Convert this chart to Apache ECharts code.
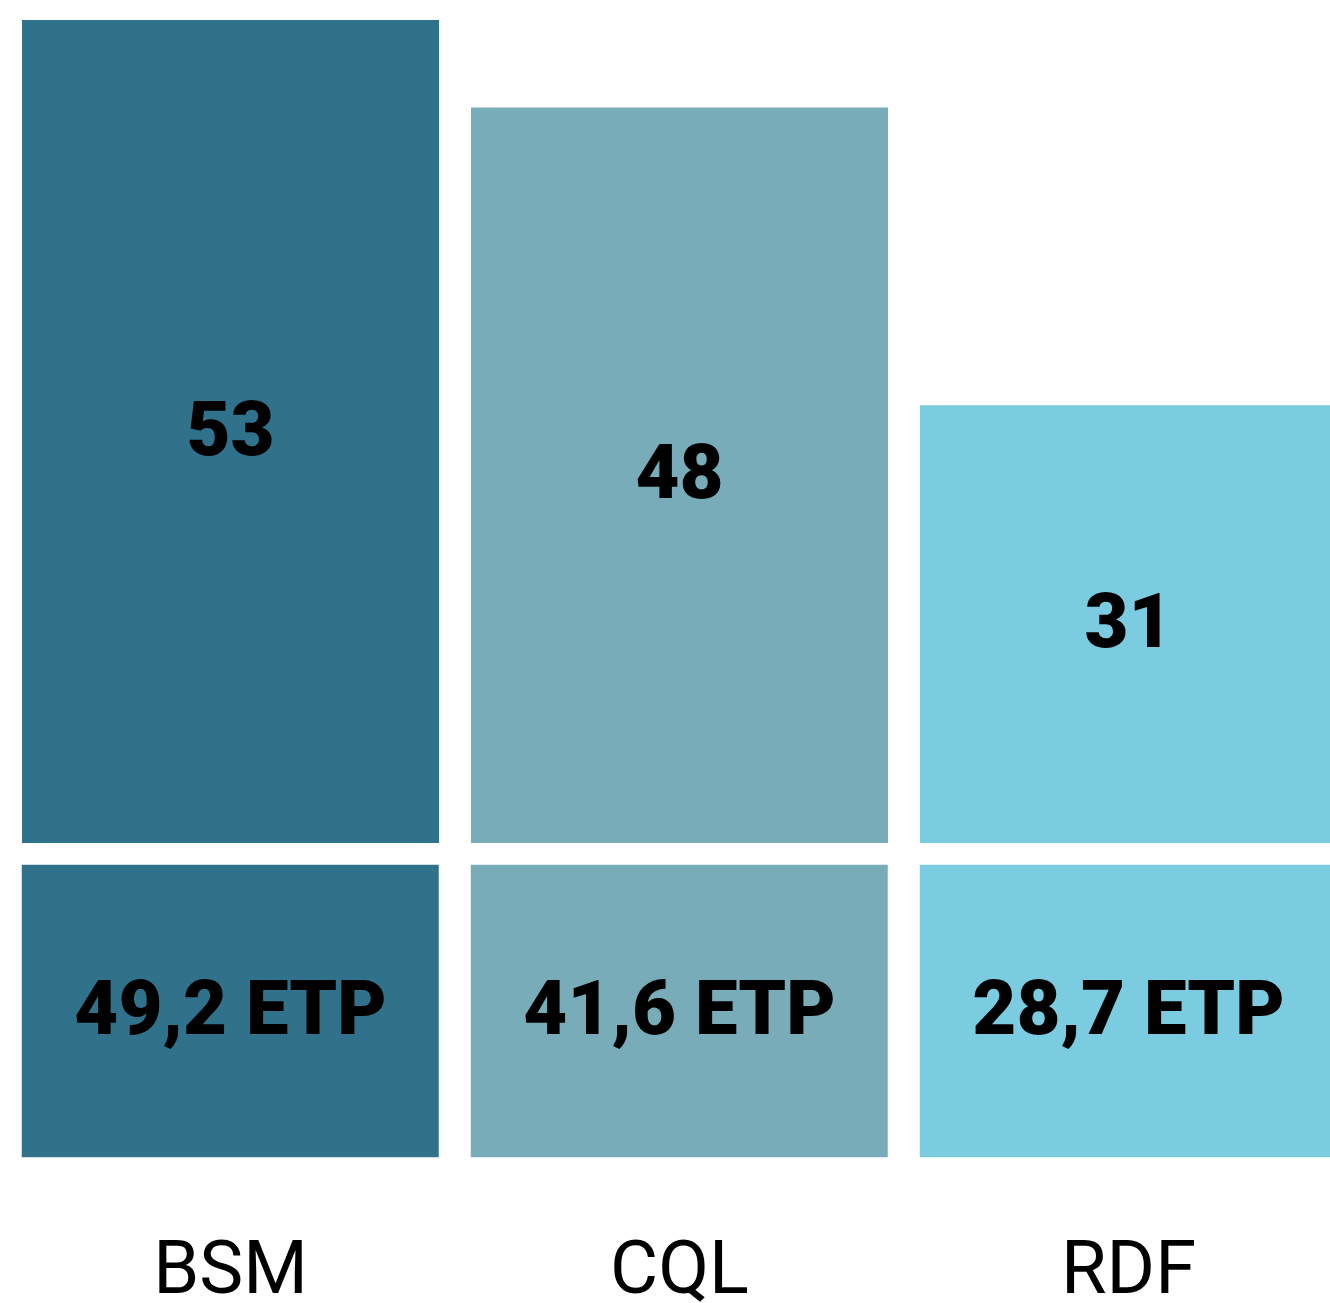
<!DOCTYPE html>
<html>
<head>
<meta charset="utf-8">
<script src="https://cdn.jsdelivr.net/npm/echarts@6/dist/echarts.min.js"></script>
<style>
  html, body { margin: 0; padding: 0; background: #fff; }
  #chart { width: 1330px; height: 1303px; }
</style>
</head>
<body>
<div id="chart"></div>
<script>
// services
const categories = ['BSM', 'CQL', 'RDF']
// people (headcount)
const headcount = [53, 48, 31]
// full time equivalents
const etp = [49.2, 41.6, 28.7]
const colors = ['#30728b', '#77acb8', '#7ccce1']

const chart = echarts.init(document.getElementById('chart'))

const boldText = {
  fontFamily: 'Roboto',
  fontWeight: 900,
  fontSize: 76,
  color: '#000'
}

const option = {
  animation: false,
  grid: [
    { left: 6, width: 1347, top: 20, height: 823, outerBoundsMode: 'none' },
    { left: 6, width: 1347, top: 849, height: 324, outerBoundsMode: 'none' }
  ],
  xAxis: [
    {
      type: 'category',
      gridIndex: 0,
      data: categories,
      show: false
    },
    {
      type: 'category',
      gridIndex: 1,
      data: categories,
      axisLine: { show: false },
      axisTick: { show: false },
      axisLabel: {
        margin: 64,
        fontFamily: 'Roboto',
        fontSize: 74,
        lineHeight: 74,
        color: '#000'
      }
    }
  ],
  yAxis: [
    // hidden, truncated scale
    { type: 'value', gridIndex: 0, min: 6, max: 53, show: false },
    { type: 'category', gridIndex: 1, data: ['ETP'], show: false }
  ],
  series: [
    {
      name: 'effectif',
      type: 'bar',
      xAxisIndex: 0,
      yAxisIndex: 0,
      barWidth: 417,
      z: 5,
      data: headcount.map((v, i) => ({ value: v, itemStyle: { color: colors[i] } })),
      label: {
        show: true,
        position: 'inside',
        offset: [0, 4],
        ...boldText
      }
    },
    {
      name: 'ETP',
      type: 'heatmap',
      xAxisIndex: 1,
      yAxisIndex: 1,
      z: 1,
      data: etp.map((v, i) => ({
        value: [i, 0, v],
        itemStyle: { color: colors[i], borderColor: '#fff', borderWidth: 32 }
      })),
      label: {
        show: true,
        ...boldText,
        offset: [0, 4],
        formatter: p => p.value[2].toFixed(1).replace('.', ',') + ' ETP'
      },
      emphasis: { disabled: true }
    }
  ]
}

chart.setOption(option)
window.addEventListener('resize', () => chart.resize())
</script>
</body>
</html>
